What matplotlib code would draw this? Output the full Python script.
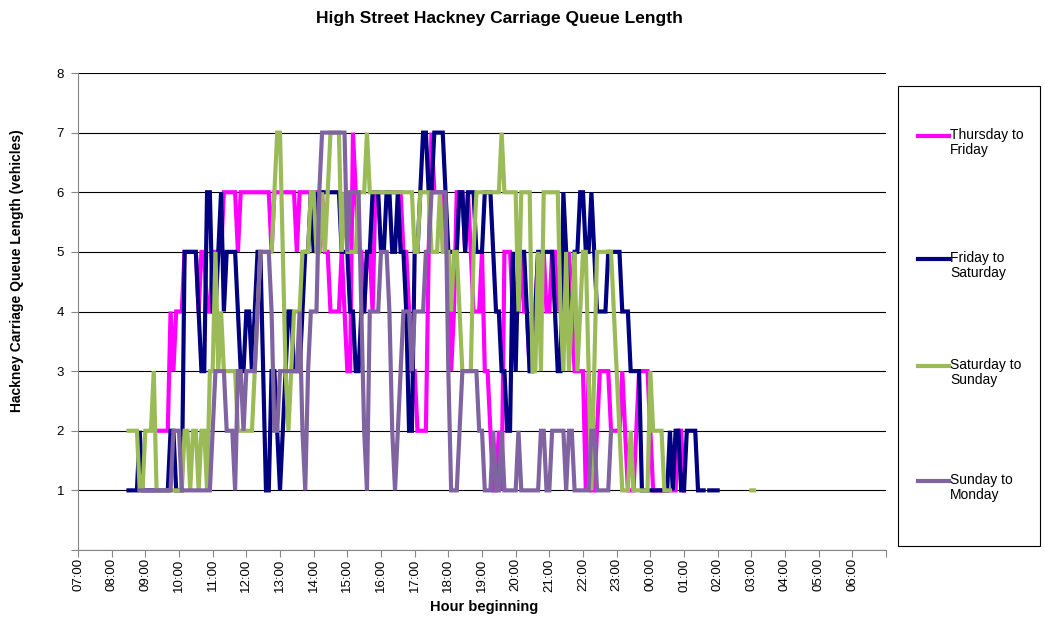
import numpy as np
import matplotlib.pyplot as plt
from matplotlib.lines import Line2D
from matplotlib.patches import Rectangle

plt.rcParams['font.family'] = ['Liberation Sans', 'DejaVu Sans']

# queue length every 5 minutes from 07:00, one 12-character chunk per hour ('.' = no data)
thu_fri = (
    "............", "............", "....22222434", "445555545544",
    "555566666566", "666666666566", "666666566666", "666655444454",
    "337655455466", "666666665543", "322225766665", "534666565444",
    "533211215554", "445443345454", "455455454333", "313112333322",
    "223211123333", "211111111122", "1...........", "............",
    "............", "............", "............", "............",
)
fri_sat = (
    "............", "......111121", "111111111221", "115555543366",
    "445645555433", "443455311332", "123443334556", "565666666655",
    "544334455666", "556655655422", "556776677776", "555566566655",
    "566654433225", "355543345555", "554336544556", "655654444555",
    "554443333111", "111111121221", "12222111.111", "1...........",
    "............", "............", "............", "............",
)
sat_sun = (
    "............", "......222211", "222311111111", "112212212213",
    "353433333222", "222345555567", "753234445556", "655656777756",
    "555566676666", "666666666666", "556666555655", "545543333566",
    "666666676666", "646666335366", "666643534534", "553135555554",
    "321112111111", "32222111....", "............", "............",
    "11..........", "............", "............", "............",
)
sun_mon = (
    "............", "..........11", "111111111122", "211111111111",
    "233332221332", "333345555422", "333333342134", "446777777777",
    "566664214444", "555421234443", "444455666666", "311123333332",
    "211121121111", "121111111221", "122222122111", "11122111112.",
    "............", "............", "............", "............",
    "............", "............", "............", "............",
)

labels = ['Thursday to\nFriday', 'Friday to\nSaturday',
          'Saturday to\nSunday', 'Sunday to\nMonday']
colors = ['#FF00FF', '#000080', '#9BBB59', '#8064A2']
hour_labels = ['07:00', '08:00', '09:00', '10:00', '11:00', '12:00',
               '13:00', '14:00', '15:00', '16:00', '17:00', '18:00',
               '19:00', '20:00', '21:00', '22:00', '23:00', '00:00',
               '01:00', '02:00', '03:00', '04:00', '05:00', '06:00']


def to_values(chunks):
    s = ''.join(chunks)
    return np.array([np.nan if c == '.' else float(c) for c in s])


series = [to_values(s) for s in (thu_fri, fri_sat, sat_sun, sun_mon)]
x = np.arange(len(series[0])) / 12.0   # hours after 07:00

W, H = 1045, 619
fig = plt.figure(figsize=(W / 100, H / 100), dpi=100)
ax = fig.add_axes([78 / W, 1 - 550 / H, (886 - 78) / W, (550 - 73) / H])

for vals, c, lab in zip(series, colors, labels):
    ax.plot(x, vals, color=c, lw=3, solid_joinstyle='miter', label=lab)

ax.set_xlim(0, 24)
ax.set_ylim(0, 8)
ax.set_xticks(np.arange(25))
ax.set_xticklabels(hour_labels + [''], rotation=90, fontsize=9.5)
ax.set_yticks(np.arange(9))
ax.set_yticklabels([''] + [str(v) for v in range(1, 9)], fontsize=9.5)
ax.tick_params(axis='both', direction='out', length=5, width=0.8,
               color='#868686')
ax.tick_params(axis='x', pad=1)
ax.tick_params(axis='y', pad=5)
ax.yaxis.grid(True, color='black', lw=0.8)
ax.set_axisbelow(True)
for side in ['top', 'right']:
    ax.spines[side].set_visible(False)
for side in ['left', 'bottom']:
    ax.spines[side].set_color('#868686')
    ax.spines[side].set_linewidth(0.8)

fig.text(499 / W, 1 - 18 / H, 'High Street Hackney Carriage Queue Length',
         ha='center', va='center', fontsize=12.5, fontweight='bold')
fig.text(17 / W, 1 - 271 / H, 'Hackney Carriage Queue Length (vehicles)',
         ha='center', va='center', rotation=90, fontsize=10, fontweight='bold')
fig.text(484 / W, 1 - 607 / H, 'Hour beginning',
         ha='center', va='center', fontsize=10.5, fontweight='bold')

# legend box on the right
fig.add_artist(Rectangle((898 / W, 1 - 546 / H), 142 / W, 460 / H,
                         transform=fig.transFigure, facecolor='white',
                         edgecolor='black', lw=0.8))
legend_y = [136, 259, 366, 481]
for ly, c, lab in zip(legend_y, colors, labels):
    fig.add_artist(Line2D([918 / W, 949 / W], [1 - ly / H, 1 - ly / H],
                          transform=fig.transFigure, color=c, lw=3))
    fig.text(950 / W, 1 - (ly - 8) / H, lab, ha='left', va='top',
             fontsize=10, linespacing=1.1)

fig.savefig('out.png', dpi=100)
